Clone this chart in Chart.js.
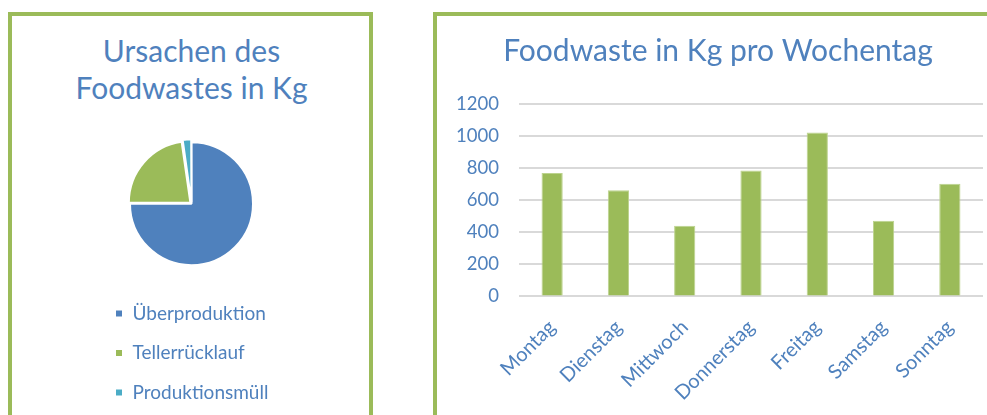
<!DOCTYPE html>
<html>
<head>
<meta charset="utf-8">
<script src="https://cdn.jsdelivr.net/npm/chart.js@4"></script>
<style>
  html, body { margin: 0; padding: 0; background: #fff; overflow: hidden; width: 987px; height: 415px; }
  .panel { position: absolute; border: 4px solid #9BBB59; box-sizing: border-box; background: #fff; }
  canvas { position: absolute; }
  #pieTitle { position: absolute; left: 41.5px; width: 300px; top: 31.5px; text-align: center;
              font-family: Lato, sans-serif; font-size: 30px; line-height: 37.5px; color: #4F81BD; white-space: nowrap; }
</style>
</head>
<body>
<div class="panel" style="left:8px; top:12px; width:365px; height:520px;"></div>
<div class="panel" style="left:433px; top:12px; width:620px; height:520px;"></div>
<div id="pieTitle"></div>
<canvas id="pie" width="355" height="420" style="left:13px; top:16px;"></canvas>
<canvas id="bar" width="586" height="420" style="left:401px; top:16px;"></canvas>
<script>
// ---- data ----
const pieTitle = ['Ursachen des', 'Foodwastes in Kg'];
const causes = ['Überproduktion', 'Tellerrücklauf', 'Produktionsmüll'];
const causeValues = [3640, 1100, 110];
const causeColors = ['#4F81BD', '#9BBB59', '#4BACC6'];

const barTitle = 'Foodwaste in Kg pro Wochentag';
const days = ['Montag', 'Dienstag', 'Mittwoch', 'Donnerstag', 'Freitag', 'Samstag', 'Sonntag'];
const dayValues = [770, 662, 440, 785, 1022, 472, 703];
const yTicks = [0, 200, 400, 600, 800, 1000, 1200];

const textBlue = '#4F81BD';
const FONT = 'Lato';

// title of the pie panel (real text)
const pt = document.getElementById('pieTitle');
pieTitle.forEach((line, i) => {
  if (i) pt.appendChild(document.createElement('br'));
  pt.appendChild(document.createTextNode(line));
});

new Chart(document.getElementById('pie'), {
  type: 'pie',
  data: {
    labels: causes,
    datasets: [{
      data: causeValues,
      backgroundColor: causeColors,
      borderColor: '#ffffff',
      borderWidth: 2,
      offset: [0, 6, 6],
      hoverOffset: 0
    }]
  },
  options: {
    responsive: false,
    animation: false,
    radius: 61.5,
    layout: { padding: { left: 81.5, right: 79.5, top: 107.8, bottom: 24 } },
    plugins: {
      tooltip: { enabled: false },
      title: { display: false },
      legend: {
        position: 'bottom',
        align: 'start',
        labels: {
          color: textBlue,
          font: { family: FONT, size: 19 },
          boxWidth: 8,
          boxHeight: 8,
          padding: 20.5
        }
      }
    }
  }
});

new Chart(document.getElementById('bar'), {
  type: 'bar',
  data: {
    labels: days,
    datasets: [{
      data: dayValues,
      backgroundColor: '#9BBB59',
      borderColor: '#BCD38E',
      borderWidth: 1,
      barPercentage: 0.32,
      categoryPercentage: 1
    }]
  },
  options: {
    responsive: false,
    animation: false,
    layout: { padding: { left: 52, right: 4, top: 0, bottom: 12 } },
    plugins: {
      tooltip: { enabled: false },
      legend: { display: false },
      title: {
        display: true,
        text: barTitle,
        color: textBlue,
        font: { family: FONT, size: 30, weight: 'normal', lineHeight: 1.2 },
        padding: { top: 17, bottom: 35 }
      }
    },
    scales: {
      y: {
        min: 0,
        max: 1200,
        afterBuildTicks: (axis) => { axis.ticks = yTicks.map(v => ({ value: v })); },
        afterFit: (axis) => { axis.width = 66; },
        ticks: {
          color: textBlue,
          font: { family: FONT, size: 18.5 },
          padding: 20,
          callback: (v) => String(v)
        },
        grid: { color: '#D9D9D9', lineWidth: 2, drawTicks: false },
        border: { display: false }
      },
      x: {
        ticks: {
          color: textBlue,
          font: { family: FONT, size: 20 },
          minRotation: 45,
          maxRotation: 45,
          padding: 19,
          labelOffset: 0
        },
        grid: { display: false, drawTicks: false },
        border: { display: false }
      }
    }
  }
});
</script>
</body>
</html>
